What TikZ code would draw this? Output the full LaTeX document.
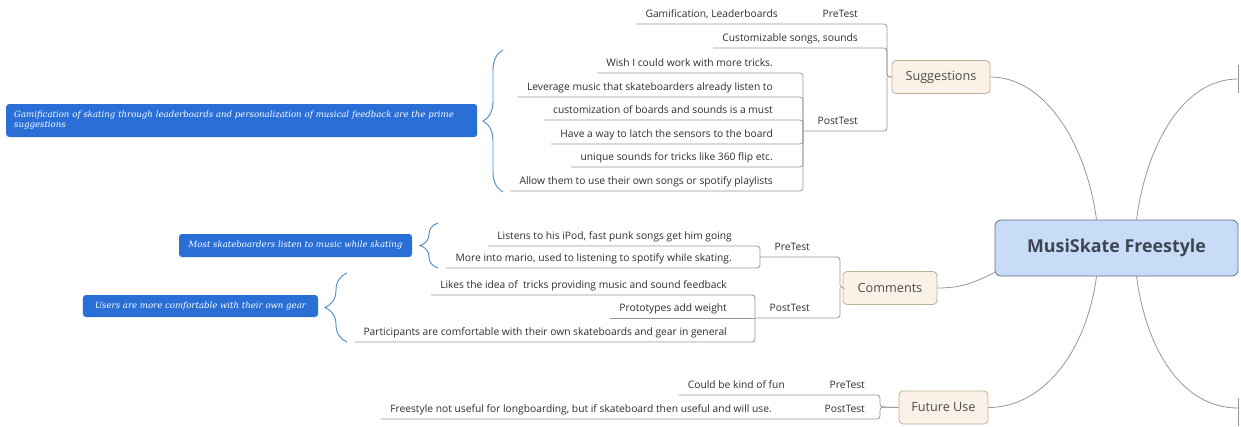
\documentclass[tikz,border=0pt]{standalone}
\usepackage{fontspec}
\usetikzlibrary{decorations.pathreplacing}
\setmainfont{Open Sans}
\newfontfamily\notefont{DejaVu Serif}
\definecolor{linkgray}{RGB}{150,150,150}
\definecolor{leaftext}{RGB}{45,45,45}
\definecolor{notefill}{RGB}{42,111,214}
\definecolor{bracecol}{RGB}{80,135,205}
\definecolor{branchfill}{RGB}{251,242,231}
\definecolor{branchline}{RGB}{195,175,150}
\definecolor{hubfill}{RGB}{200,219,247}
\definecolor{hubline}{RGB}{95,110,135}
\definecolor{hubtext}{RGB}{62,70,84}
\tikzset{link/.style={draw=linkgray,line width=.8bp,rounded corners=3bp},
 leaf/.style={font=\fontsize{10.3}{12}\selectfont,text=leaftext,inner xsep=9bp,inner ysep=4bp,
  text height=7.5bp,text depth=2bp,anchor=south east},
 branch/.style={draw=branchline,fill=branchfill,rounded corners=4bp,line width=.8bp,
  font=\fontsize{12.7}{15}\selectfont,text=leaftext!85!white,minimum height=33bp},
 hub/.style={draw=hubline,fill=hubfill,rounded corners=6bp,line width=.8bp,text=hubtext,
  font=\bfseries\fontsize{17.9}{21}\selectfont,minimum width=243bp,minimum height=56bp},
 note/.style={fill=notefill,rounded corners=3bp,text=white,
  font=\notefont\itshape\fontsize{8.6}{10}\selectfont},
 curly/.style={draw=bracecol,line width=.9bp,decorate,decoration={brace,amplitude=#1}}}

\begin{document}
\begin{tikzpicture}[x=1bp,y=-1bp]
\useasboundingbox (0,0) rectangle (1241,426);
% hub and branches
\node[hub] (ms) at (1116.5,248) {MusiSkate Freestyle};
\node[branch,minimum width=98bp] (sug) at (941,77) {Suggestions};
\node[branch,minimum width=94bp] (com) at (890,288) {Comments};
\node[branch,minimum width=89bp] (fut) at (943.5,407.5) {Future Use};
\coordinate (rt) at (1238,79);
\coordinate (rb) at (1238,408);
\draw[link] (sug.east) .. controls +(55,0) and +(-10,-75) .. ([xshift=-20bp]ms.north);
\draw[link] (fut.east) .. controls +(55,0) and +(-10,75) .. ([xshift=-20bp]ms.south);
\draw[link] ([xshift=20bp]ms.north) .. controls +(10,-75) and +(-55,0) .. (rt);
\draw[link] ([xshift=20bp]ms.south) .. controls +(10,75) and +(-55,0) .. (rb);
\draw[link] (com.east) .. controls +(25,0) and +(-20,10) .. ([yshift=4bp]ms.south west);
\draw[link] (rt) ++(0,-14) -- ++(0,28);
\draw[link] (rb) ++(0,-10) -- ++(0,28);

% Suggestions
\coordinate (sj) at (887,77);
\coordinate (spj) at (803,131);
\node[leaf] (sgame) at (787,24) {Gamification, Leaderboards};
\node[leaf] (spre) at (867,24) {PreTest};
\node[leaf] (scust) at (867,48) {Customizable songs, sounds};
\node[leaf] (spost) at (867,131) {PostTest};
\node[leaf] (sp1) at (782,73) {Wish I could work with more tricks.};
\node[leaf] (sp2) at (782,97) {Leverage music that skateboarders already listen to};
\node[leaf] (sp3) at (782,120) {customization of boards and sounds is a must};
\node[leaf] (sp4) at (782,144) {Have a way to latch the sensors to the board};
\node[leaf] (sp5) at (782,167) {unique sounds for tricks like 360 flip etc.};
\node[leaf] (sp6) at (782,191) {Allow them to use their own songs or spotify playlists};
\foreach \n in {sgame,scust}
  \draw[link] (\n.south west) -- (sj |- \n.south) -- (sj) -- (sug.west);
\draw[link] (spj) -- (sj |- spj) -- (sj);
\foreach \n in {sp1,sp2,sp3,sp4,sp5,sp6}
  \draw[link] (\n.south west) -- (spj |- \n.south) -- (spj);
\node[note,anchor=west,text width=455bp,inner xsep=8bp,minimum height=33bp,align=left] (nsug)
  at (6,120.5) {Gamification of skating through leaderboards and personalization of musical feedback are the prime\\suggestions};
\draw[curly=20bp] (503,192) -- (503,50);

% Comments
\coordinate (cj) at (840,288);
\coordinate (cpj) at (760,257);
\coordinate (cqj) at (755,318);
\node[leaf] (cpre) at (819,257) {PreTest};
\node[leaf] (cpost) at (819,318) {PostTest};
\node[leaf] (cc1) at (741,246) {Listens to his iPod, fast punk songs get him going};
\node[leaf] (cc2) at (741,268) {More into mario, used to listening to spotify while skating.};
\node[leaf] (cd1) at (736,295) {Likes the idea of\ \ tricks providing music and sound feedback};
\node[leaf] (cd2) at (736,318) {Prototypes add weight};
\node[leaf] (cd3) at (736,342) {Participants are comfortable with their own skateboards and gear in general};
\draw[link] (cpj) -- (cj |- cpj) -- (cj) -- (com.west);
\draw[link] (cqj) -- (cj |- cqj) -- (cj);
\foreach \n in {cc1,cc2}
  \draw[link] (\n.south west) -- (cpj |- \n.south) -- (cpj);
\foreach \n in {cd1,cd3}
  \draw[link] (\n.south west) -- (cqj |- \n.south) -- (cqj);
\draw[link] (cd2.south west) -- (cqj);
\node[note,minimum width=233bp,minimum height=23bp] (ncom) at (295.5,245.5)
  {Most skateboarders listen to music while skating};
\node[note,minimum width=235bp,minimum height=22bp] (nuse) at (200.5,306)
  {Users are more comfortable with their own gear};
\draw[curly=18bp] (438,268) -- (438,223);
\draw[curly=22bp] (347,342) -- (347,273);

% Future Use
\coordinate (fj) at (880,407);
\node[leaf] (fpre) at (874,395) {PreTest};
\node[leaf] (fpost) at (874,419) {PostTest};
\node[leaf] (ff1) at (794,395) {Could be kind of fun};
\node[leaf] (ff2) at (781,419) {Freestyle not useful for longboarding, but if skateboard then useful and will use.};
\foreach \n in {ff1,ff2}
  \draw[link] (\n.south west) -- (fj |- \n.south) -- (fj) -- (fut.west);
\end{tikzpicture}
\end{document}
